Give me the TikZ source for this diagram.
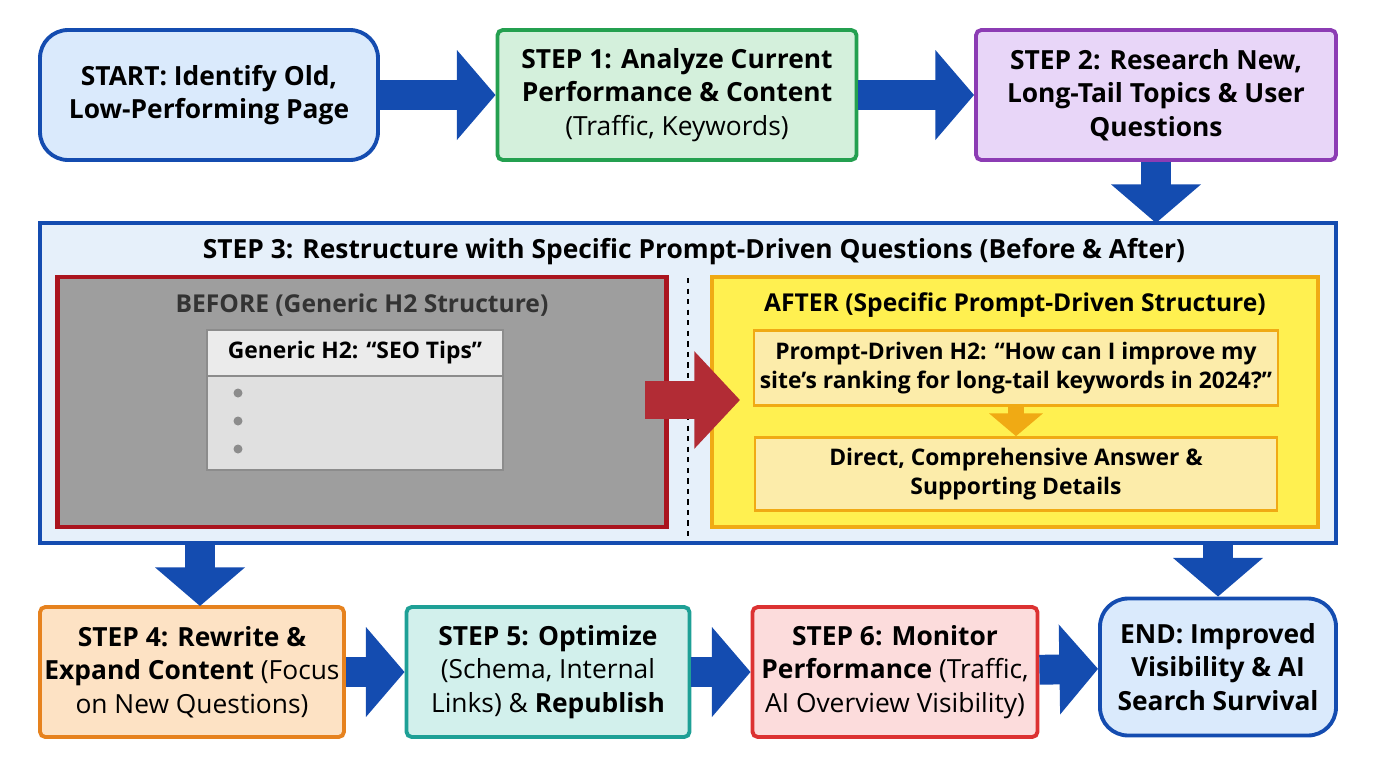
\documentclass[tikz,border=0pt]{standalone}
\usepackage{fontspec}
\setmainfont{Open Sans}
\usetikzlibrary{arrows.meta}
\definecolor{flowblue}{RGB}{20, 76, 176}
\definecolor{startfill}{RGB}{218, 234, 252}
\definecolor{stepgreen}{RGB}{36, 160, 80}
\definecolor{greenfill}{RGB}{212, 240, 220}
\definecolor{steppurple}{RGB}{140, 60, 180}
\definecolor{purplefill}{RGB}{232, 214, 248}
\definecolor{bigfill}{RGB}{230, 240, 250}
\definecolor{beforered}{RGB}{170, 20, 30}
\definecolor{beforefill}{RGB}{158, 158, 158}
\definecolor{afterorange}{RGB}{240, 170, 20}
\definecolor{afterfill}{RGB}{255, 240, 80}
\definecolor{innerfill}{RGB}{252, 236, 170}
\definecolor{steporange}{RGB}{230, 130, 30}
\definecolor{orangefill}{RGB}{253, 226, 196}
\definecolor{stepteal}{RGB}{30, 160, 150}
\definecolor{tealfill}{RGB}{210, 240, 236}
\definecolor{stepred}{RGB}{220, 50, 50}
\definecolor{redfill}{RGB}{252, 220, 220}
\tikzset{
    box/.style={draw, line width=2.2pt, rounded corners=3pt, align=center,
        font=\fontsize{15}{19}\selectfont, inner sep=2pt},
    roundbox/.style={box, rounded corners=16pt},
    bigarrow/.style={-{Triangle[width=50pt, length=22pt]}, line width=17pt,
        flowblue, shorten >=0pt}
}
\begin{document}
\begin{tikzpicture}[x=0.02cm, y=-0.02cm]
    \useasboundingbox (0, 0) rectangle (1376, 768);
    \node[roundbox, draw=flowblue, fill=startfill, minimum width=338*0.02cm,
        minimum height=130*0.02cm, font=\fontsize{15}{19}\selectfont\bfseries]
        (start) at (209, 95) {START: Identify Old,\\ Low-Performing Page};
    \node[box, draw=stepgreen, fill=greenfill, minimum width=359*0.02cm,
        minimum height=130*0.02cm] (step1) at (677, 95)
        {{\bfseries STEP 1: Analyze Current}\\ {\bfseries Performance \& Content}\\
        (Traffic, Keywords)};
    \node[box, draw=steppurple, fill=purplefill, minimum width=360*0.02cm,
        minimum height=130*0.02cm, font=\fontsize{15}{19}\selectfont\bfseries]
        (step2) at (1156, 95)
        {STEP 2: Research New,\\ Long-Tail Topics \& User\\ Questions};

    % step 3 frame
    \node[draw=flowblue, line width=2.4pt, fill=bigfill, minimum width=1296*0.02cm,
        minimum height=320*0.02cm] (step3) at (688, 383) {};
    \node[font=\fontsize{15}{19}\selectfont\bfseries] (step3-title) at (694, 252)
        {STEP 3: Restructure with Specific Prompt-Driven Questions (Before \& After)};
    \node[draw=beforered, line width=2.4pt, fill=beforefill, minimum width=609*0.02cm,
        minimum height=250*0.02cm] (before) at (362, 402) {};
    \node[font=\fontsize{14}{18}\selectfont\bfseries, text=black!80] (before-title)
        at (362, 305) {BEFORE (Generic H2 Structure)};
    \node[draw=black!45, line width=1.5pt, fill=black!12, minimum width=296*0.02cm,
        minimum height=94*0.02cm] (before-body) at (355, 423) {};
    \node[draw=black!45, line width=1.5pt, fill=black!8, minimum width=296*0.02cm,
        minimum height=46*0.02cm, font=\fontsize{13}{16}\selectfont\bfseries]
        (before-head) at (355, 353) {Generic H2: “SEO Tips”};
    \foreach \y in {393, 421, 449}
        \fill[black!45] (238, \y) circle (4.5);
    \draw[dashed, line width=1.2pt] (688, 278) -- (688, 541);
    \node[draw=afterorange, line width=2.4pt, fill=afterfill, minimum width=606*0.02cm,
        minimum height=250*0.02cm] (after) at (1015, 402) {};
    \node[font=\fontsize{14}{18}\selectfont\bfseries] (after-title)
        at (1015, 305) {AFTER (Specific Prompt-Driven Structure)};
    \node[draw=afterorange, line width=1.5pt, fill=innerfill, minimum width=522*0.02cm,
        minimum height=75*0.02cm, align=center, font=\fontsize{13}{17}\selectfont\bfseries]
        (prompt) at (1016, 368) {Prompt-Driven H2: “How can I improve my\\
        site’s ranking for long-tail keywords in 2024?”};
    \node[draw=afterorange, line width=1.5pt, fill=innerfill, minimum width=522*0.02cm,
        minimum height=73*0.02cm, align=center, font=\fontsize{13}{17}\selectfont\bfseries]
        (answer) at (1016, 474) {Direct, Comprehensive Answer \&\\ Supporting Details};
    \draw[-{Triangle[width=30pt, length=13pt]}, line width=9pt, afterorange]
        (prompt.south) -- (answer.north);
    \coordinate (red-start) at (645, 400);
    \coordinate (red-end) at (740, 400);
    \draw[-{Triangle[width=54pt, length=26pt]}, line width=22pt, beforered!90]
        (red-start) -- (red-end);

    % bottom row
    \node[box, draw=steporange, fill=orangefill, minimum width=304*0.02cm,
        minimum height=130*0.02cm] (step4) at (192, 672)
        {{\bfseries STEP 4: Rewrite \&}\\ {\bfseries Expand Content} (Focus\\ on New Questions)};
    \node[box, draw=stepteal, fill=tealfill, minimum width=283*0.02cm,
        minimum height=130*0.02cm] (step5) at (548, 672)
        {{\bfseries STEP 5: Optimize}\\ (Schema, Internal\\ Links) \& {\bfseries Republish}};
    \node[box, draw=stepred, fill=redfill, minimum width=285*0.02cm,
        minimum height=130*0.02cm] (step6) at (895, 672)
        {{\bfseries STEP 6: Monitor}\\ {\bfseries Performance} (Traffic,\\ AI Overview Visibility)};
    \node[roundbox, draw=flowblue, fill=startfill, minimum width=236*0.02cm,
        minimum height=137*0.02cm, font=\fontsize{15}{19}\selectfont\bfseries]
        (end) at (1218, 667) {END: Improved\\ Visibility \& AI\\ Search Survival};

    \coordinate (down-left) at (200, 543);
    \coordinate (down-right) at (1218, 543);
    \draw[bigarrow] (start) -- (step1);
    \draw[bigarrow] (step1) -- (step2);
    \draw[bigarrow] (step2) -- (1156, 223);
    \draw[bigarrow] (down-left) -- (200, 606);
    \draw[bigarrow] (down-right) -- (end.north);
    \draw[bigarrow] (step4) -- (step5);
    \draw[bigarrow] (step5) -- (step6);
    \draw[bigarrow] (step6) -- (end);
\end{tikzpicture}
\end{document}
